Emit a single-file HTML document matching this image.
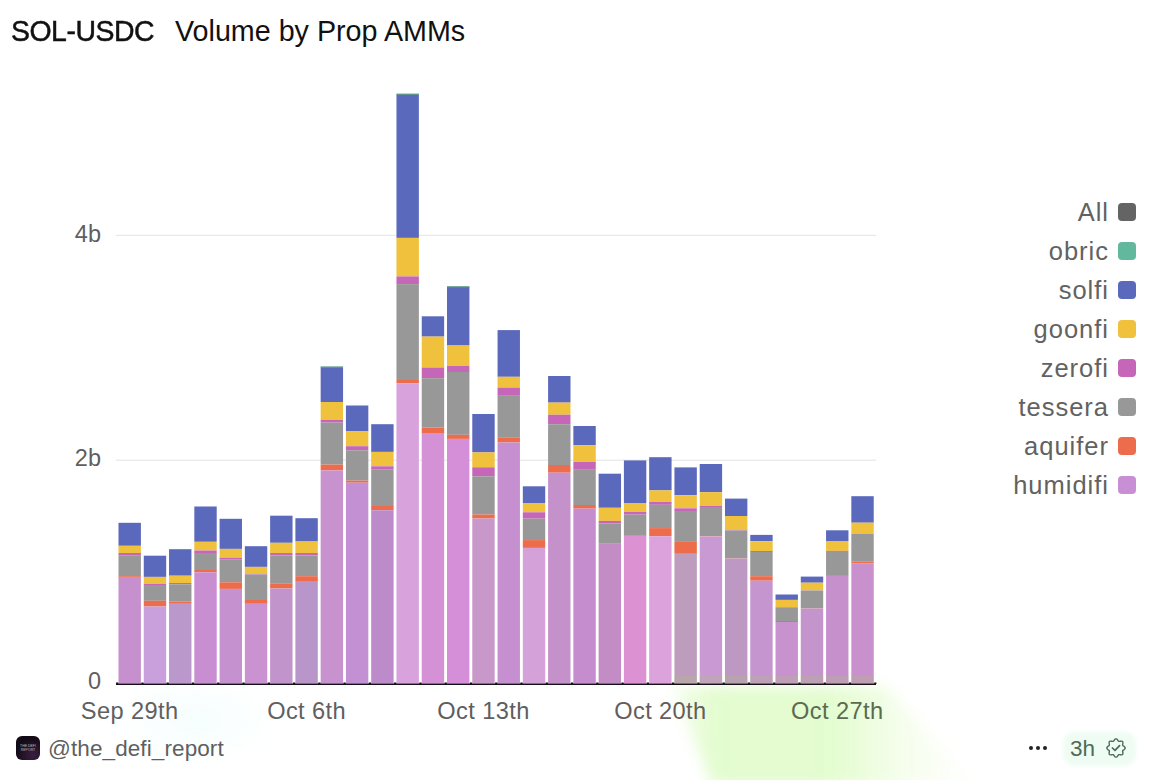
<!DOCTYPE html>
<html><head><meta charset="utf-8"><style>
html,body{margin:0;padding:0;}
body{width:1152px;height:780px;overflow:hidden;background:#fff;position:relative;font-family:"Liberation Sans",sans-serif;}
.abs{position:absolute;}
.title{position:absolute;left:11px;top:14px;font-size:28.7px;color:#111;white-space:nowrap;line-height:34px;}
.title b{font-weight:normal;-webkit-text-stroke:0.5px #111;letter-spacing:-0.5px;font-size:29.8px;display:inline-block;transform:scaleX(0.954);transform-origin:0 0;}
.title .v{position:absolute;left:164px;top:0;}
.yl{position:absolute;width:60px;left:41px;text-align:right;font-size:23.5px;color:#5f5f5f;line-height:28px;}
.xl{position:absolute;width:200px;top:697px;text-align:center;font-size:23.6px;letter-spacing:0.4px;color:#5f5f5f;line-height:28px;white-space:nowrap;}
.lg{position:absolute;right:16px;height:40px;display:flex;align-items:center;justify-content:flex-end;font-size:25.5px;color:#626262;white-space:nowrap;}
.lg span{letter-spacing:1.0px;}
.lg i{display:inline-block;width:18px;height:18px;border-radius:4px;margin-left:9px;}
svg{position:absolute;left:0;top:0;}
.handle{position:absolute;left:48px;top:734.5px;font-size:22.5px;letter-spacing:0.1px;color:#5f5f5f;line-height:28px;white-space:nowrap;}
.av{position:absolute;left:16px;top:736px;width:24px;height:24px;border-radius:6px;background:radial-gradient(circle at 70% 80%,#3a1f40,#120a14 70%);}
.av span{position:absolute;left:4px;top:8px;width:16px;font-size:3.5px;line-height:4px;color:#bbb;text-align:center;}
.pill{position:absolute;left:1063px;top:732px;width:73px;height:34px;border-radius:12px;background:#eefcf3;filter:blur(2px);}
.h3{position:absolute;left:1070px;top:734.5px;font-size:22.5px;line-height:28px;color:#4d6b56;}
.dots{position:absolute;left:1028.5px;top:745.5px;}
.dots i{display:inline-block;width:4.6px;height:4.6px;border-radius:50%;background:#222;margin-right:2.6px;float:left;}
</style></head><body>
<div class="abs" style="left:655px;top:686px;width:320px;height:100px;filter:blur(7px);"><div style="width:100%;height:100%;background:linear-gradient(to right, rgba(226,252,205,0) 0%, rgba(226,252,205,0.95) 18%, rgba(226,252,205,0.95) 55%, rgba(240,253,225,0.6) 78%, rgba(255,255,255,0) 100%);clip-path:polygon(5% 0, 72% 0, 100% 100%, 18% 100%);"></div></div>
<div class="abs" style="left:110px;top:688px;width:170px;height:80px;background:radial-gradient(ellipse at 50% 40%, rgba(200,245,245,0.18), rgba(255,255,255,0) 70%);filter:blur(6px);"></div>
<div class="title"><b>SOL-USDC</b><span class="v">Volume by Prop AMMs</span></div>
<svg width="1152" height="780" viewBox="0 0 1152 780">
<rect x="116" y="234.8" width="760" height="1.2" fill="#e8e8e8"/>
<rect x="116" y="459.6" width="760" height="1.2" fill="#e8e8e8"/>
<rect x="118.50" y="522.80" width="22.4" height="23.00" fill="#5b69bd"/>
<rect x="118.50" y="545.80" width="22.4" height="7.20" fill="#f0c13c"/>
<rect x="118.50" y="553.00" width="22.4" height="2.70" fill="#c566b9"/>
<rect x="118.50" y="555.70" width="22.4" height="20.50" fill="#989898"/>
<rect x="118.50" y="576.20" width="22.4" height="0.80" fill="#ec6c4c"/>
<rect x="118.50" y="577.00" width="22.4" height="106.50" fill="#c690cf"/>
<rect x="143.77" y="555.70" width="22.4" height="21.20" fill="#5b69bd"/>
<rect x="143.77" y="576.90" width="22.4" height="6.90" fill="#f0c13c"/>
<rect x="143.77" y="583.80" width="22.4" height="1.20" fill="#c566b9"/>
<rect x="143.77" y="585.00" width="22.4" height="15.80" fill="#989898"/>
<rect x="143.77" y="600.80" width="22.4" height="5.70" fill="#ec6c4c"/>
<rect x="143.77" y="606.50" width="22.4" height="77.00" fill="#c9a0dc"/>
<rect x="169.04" y="549.20" width="22.4" height="26.50" fill="#5b69bd"/>
<rect x="169.04" y="575.70" width="22.4" height="7.30" fill="#f0c13c"/>
<rect x="169.04" y="583.00" width="22.4" height="1.30" fill="#c566b9"/>
<rect x="169.04" y="584.30" width="22.4" height="17.20" fill="#989898"/>
<rect x="169.04" y="601.50" width="22.4" height="2.30" fill="#ec6c4c"/>
<rect x="169.04" y="603.80" width="22.4" height="79.70" fill="#bb98cc"/>
<rect x="194.31" y="506.50" width="22.4" height="35.30" fill="#5b69bd"/>
<rect x="194.31" y="541.80" width="22.4" height="8.70" fill="#f0c13c"/>
<rect x="194.31" y="550.50" width="22.4" height="2.50" fill="#c566b9"/>
<rect x="194.31" y="553.00" width="22.4" height="17.00" fill="#989898"/>
<rect x="194.31" y="570.00" width="22.4" height="2.30" fill="#ec6c4c"/>
<rect x="194.31" y="572.30" width="22.4" height="111.20" fill="#c98dd2"/>
<rect x="219.58" y="518.80" width="22.4" height="30.10" fill="#5b69bd"/>
<rect x="219.58" y="548.90" width="22.4" height="8.80" fill="#f0c13c"/>
<rect x="219.58" y="557.70" width="22.4" height="1.50" fill="#c566b9"/>
<rect x="219.58" y="559.20" width="22.4" height="23.10" fill="#989898"/>
<rect x="219.58" y="582.30" width="22.4" height="6.60" fill="#ec6c4c"/>
<rect x="219.58" y="588.90" width="22.4" height="94.60" fill="#c592cf"/>
<rect x="244.85" y="546.20" width="22.4" height="20.70" fill="#5b69bd"/>
<rect x="244.85" y="566.90" width="22.4" height="6.90" fill="#f0c13c"/>
<rect x="244.85" y="573.80" width="22.4" height="0.70" fill="#c566b9"/>
<rect x="244.85" y="574.50" width="22.4" height="25.50" fill="#989898"/>
<rect x="244.85" y="600.00" width="22.4" height="3.80" fill="#ec6c4c"/>
<rect x="244.85" y="603.80" width="22.4" height="79.70" fill="#cb92d2"/>
<rect x="270.12" y="515.70" width="22.4" height="27.10" fill="#5b69bd"/>
<rect x="270.12" y="542.80" width="22.4" height="10.20" fill="#f0c13c"/>
<rect x="270.12" y="553.00" width="22.4" height="2.40" fill="#c566b9"/>
<rect x="270.12" y="555.40" width="22.4" height="28.40" fill="#989898"/>
<rect x="270.12" y="583.80" width="22.4" height="4.70" fill="#ec6c4c"/>
<rect x="270.12" y="588.50" width="22.4" height="95.00" fill="#c294cc"/>
<rect x="295.39" y="518.20" width="22.4" height="23.30" fill="#5b69bd"/>
<rect x="295.39" y="541.50" width="22.4" height="11.50" fill="#f0c13c"/>
<rect x="295.39" y="553.00" width="22.4" height="2.40" fill="#c566b9"/>
<rect x="295.39" y="555.40" width="22.4" height="20.80" fill="#989898"/>
<rect x="295.39" y="576.20" width="22.4" height="5.60" fill="#ec6c4c"/>
<rect x="295.39" y="581.80" width="22.4" height="101.70" fill="#b996c9"/>
<rect x="320.66" y="367.20" width="22.4" height="34.80" fill="#5b69bd"/>
<rect x="320.66" y="402.00" width="22.4" height="17.90" fill="#f0c13c"/>
<rect x="320.66" y="419.90" width="22.4" height="2.70" fill="#c566b9"/>
<rect x="320.66" y="422.60" width="22.4" height="42.00" fill="#989898"/>
<rect x="320.66" y="464.60" width="22.4" height="5.80" fill="#ec6c4c"/>
<rect x="320.66" y="470.40" width="22.4" height="213.10" fill="#c892ce"/>
<rect x="320.66" y="366.40" width="22.4" height="1.3" fill="#5a948a"/>
<rect x="345.93" y="405.50" width="22.4" height="25.90" fill="#5b69bd"/>
<rect x="345.93" y="431.40" width="22.4" height="14.80" fill="#f0c13c"/>
<rect x="345.93" y="446.20" width="22.4" height="4.10" fill="#c566b9"/>
<rect x="345.93" y="450.30" width="22.4" height="30.30" fill="#989898"/>
<rect x="345.93" y="480.60" width="22.4" height="2.10" fill="#ec6c4c"/>
<rect x="345.93" y="482.70" width="22.4" height="200.80" fill="#c490d4"/>
<rect x="371.20" y="424.20" width="22.4" height="27.70" fill="#5b69bd"/>
<rect x="371.20" y="451.90" width="22.4" height="14.40" fill="#f0c13c"/>
<rect x="371.20" y="466.30" width="22.4" height="3.40" fill="#c566b9"/>
<rect x="371.20" y="469.70" width="22.4" height="36.30" fill="#989898"/>
<rect x="371.20" y="506.00" width="22.4" height="4.20" fill="#ec6c4c"/>
<rect x="371.20" y="510.20" width="22.4" height="173.30" fill="#bd8bca"/>
<rect x="396.47" y="94.40" width="22.4" height="143.50" fill="#5b69bd"/>
<rect x="396.47" y="237.90" width="22.4" height="38.50" fill="#f0c13c"/>
<rect x="396.47" y="276.40" width="22.4" height="7.70" fill="#c566b9"/>
<rect x="396.47" y="284.10" width="22.4" height="95.90" fill="#989898"/>
<rect x="396.47" y="380.00" width="22.4" height="3.20" fill="#ec6c4c"/>
<rect x="396.47" y="383.20" width="22.4" height="300.30" fill="#d8a2dc"/>
<rect x="396.47" y="93.60" width="22.4" height="1.3" fill="#5a948a"/>
<rect x="421.74" y="316.30" width="22.4" height="20.30" fill="#5b69bd"/>
<rect x="421.74" y="336.60" width="22.4" height="30.90" fill="#f0c13c"/>
<rect x="421.74" y="367.50" width="22.4" height="10.70" fill="#c566b9"/>
<rect x="421.74" y="378.20" width="22.4" height="49.40" fill="#989898"/>
<rect x="421.74" y="427.60" width="22.4" height="5.40" fill="#ec6c4c"/>
<rect x="421.74" y="433.00" width="22.4" height="250.50" fill="#d591d6"/>
<rect x="447.01" y="287.00" width="22.4" height="58.50" fill="#5b69bd"/>
<rect x="447.01" y="345.50" width="22.4" height="20.50" fill="#f0c13c"/>
<rect x="447.01" y="366.00" width="22.4" height="6.00" fill="#c566b9"/>
<rect x="447.01" y="372.00" width="22.4" height="62.80" fill="#989898"/>
<rect x="447.01" y="434.80" width="22.4" height="4.10" fill="#ec6c4c"/>
<rect x="447.01" y="438.90" width="22.4" height="244.60" fill="#d58fd8"/>
<rect x="447.01" y="286.20" width="22.4" height="1.3" fill="#5a948a"/>
<rect x="472.28" y="414.00" width="22.4" height="38.40" fill="#5b69bd"/>
<rect x="472.28" y="452.40" width="22.4" height="14.90" fill="#f0c13c"/>
<rect x="472.28" y="467.30" width="22.4" height="9.00" fill="#c566b9"/>
<rect x="472.28" y="476.30" width="22.4" height="38.20" fill="#989898"/>
<rect x="472.28" y="514.50" width="22.4" height="4.00" fill="#ec6c4c"/>
<rect x="472.28" y="518.50" width="22.4" height="165.00" fill="#c998cb"/>
<rect x="497.55" y="330.10" width="22.4" height="46.70" fill="#5b69bd"/>
<rect x="497.55" y="376.80" width="22.4" height="10.80" fill="#f0c13c"/>
<rect x="497.55" y="387.60" width="22.4" height="8.20" fill="#c566b9"/>
<rect x="497.55" y="395.80" width="22.4" height="42.00" fill="#989898"/>
<rect x="497.55" y="437.80" width="22.4" height="4.70" fill="#ec6c4c"/>
<rect x="497.55" y="442.50" width="22.4" height="241.00" fill="#c68fd0"/>
<rect x="522.82" y="486.30" width="22.4" height="16.70" fill="#5b69bd"/>
<rect x="522.82" y="503.00" width="22.4" height="9.30" fill="#f0c13c"/>
<rect x="522.82" y="512.30" width="22.4" height="6.30" fill="#c566b9"/>
<rect x="522.82" y="518.60" width="22.4" height="21.50" fill="#989898"/>
<rect x="522.82" y="540.10" width="22.4" height="7.80" fill="#ec6c4c"/>
<rect x="522.82" y="547.90" width="22.4" height="135.60" fill="#d5a1d9"/>
<rect x="548.09" y="376.00" width="22.4" height="26.60" fill="#5b69bd"/>
<rect x="548.09" y="402.60" width="22.4" height="12.10" fill="#f0c13c"/>
<rect x="548.09" y="414.70" width="22.4" height="9.50" fill="#c566b9"/>
<rect x="548.09" y="424.20" width="22.4" height="40.80" fill="#989898"/>
<rect x="548.09" y="465.00" width="22.4" height="7.70" fill="#ec6c4c"/>
<rect x="548.09" y="472.70" width="22.4" height="210.80" fill="#c591ca"/>
<rect x="573.36" y="426.00" width="22.4" height="19.20" fill="#5b69bd"/>
<rect x="573.36" y="445.20" width="22.4" height="16.80" fill="#f0c13c"/>
<rect x="573.36" y="462.00" width="22.4" height="7.10" fill="#c566b9"/>
<rect x="573.36" y="469.10" width="22.4" height="35.90" fill="#989898"/>
<rect x="573.36" y="505.00" width="22.4" height="3.60" fill="#ec6c4c"/>
<rect x="573.36" y="508.60" width="22.4" height="174.90" fill="#c58dcd"/>
<rect x="598.63" y="473.70" width="22.4" height="34.10" fill="#5b69bd"/>
<rect x="598.63" y="507.80" width="22.4" height="13.10" fill="#f0c13c"/>
<rect x="598.63" y="520.90" width="22.4" height="2.70" fill="#c566b9"/>
<rect x="598.63" y="523.60" width="22.4" height="19.80" fill="#989898"/>
<rect x="598.63" y="543.40" width="22.4" height="0.60" fill="#ec6c4c"/>
<rect x="598.63" y="544.00" width="22.4" height="139.50" fill="#c48cc4"/>
<rect x="623.90" y="460.40" width="22.4" height="42.60" fill="#5b69bd"/>
<rect x="623.90" y="503.00" width="22.4" height="9.00" fill="#f0c13c"/>
<rect x="623.90" y="512.00" width="22.4" height="2.60" fill="#c566b9"/>
<rect x="623.90" y="514.60" width="22.4" height="20.70" fill="#989898"/>
<rect x="623.90" y="535.30" width="22.4" height="0.70" fill="#ec6c4c"/>
<rect x="623.90" y="536.00" width="22.4" height="147.50" fill="#dc92d2"/>
<rect x="649.17" y="457.20" width="22.4" height="33.20" fill="#5b69bd"/>
<rect x="649.17" y="490.40" width="22.4" height="11.60" fill="#f0c13c"/>
<rect x="649.17" y="502.00" width="22.4" height="2.80" fill="#c566b9"/>
<rect x="649.17" y="504.80" width="22.4" height="23.30" fill="#989898"/>
<rect x="649.17" y="528.10" width="22.4" height="8.10" fill="#ec6c4c"/>
<rect x="649.17" y="536.20" width="22.4" height="147.30" fill="#dca2dc"/>
<rect x="674.44" y="467.40" width="22.4" height="27.80" fill="#5b69bd"/>
<rect x="674.44" y="495.20" width="22.4" height="13.10" fill="#f0c13c"/>
<rect x="674.44" y="508.30" width="22.4" height="2.70" fill="#c566b9"/>
<rect x="674.44" y="511.00" width="22.4" height="30.90" fill="#989898"/>
<rect x="674.44" y="541.90" width="22.4" height="11.90" fill="#ec6c4c"/>
<rect x="674.44" y="553.80" width="22.4" height="129.70" fill="#be9cbe"/>
<rect x="699.71" y="464.00" width="22.4" height="28.20" fill="#5b69bd"/>
<rect x="699.71" y="492.20" width="22.4" height="13.80" fill="#f0c13c"/>
<rect x="699.71" y="506.00" width="22.4" height="1.00" fill="#c566b9"/>
<rect x="699.71" y="507.00" width="22.4" height="29.20" fill="#989898"/>
<rect x="699.71" y="536.20" width="22.4" height="0.30" fill="#ec6c4c"/>
<rect x="699.71" y="536.50" width="22.4" height="147.00" fill="#c999d4"/>
<rect x="724.98" y="498.60" width="22.4" height="17.40" fill="#5b69bd"/>
<rect x="724.98" y="516.00" width="22.4" height="13.90" fill="#f0c13c"/>
<rect x="724.98" y="529.90" width="22.4" height="0.60" fill="#c566b9"/>
<rect x="724.98" y="530.50" width="22.4" height="27.70" fill="#989898"/>
<rect x="724.98" y="558.20" width="22.4" height="0.30" fill="#ec6c4c"/>
<rect x="724.98" y="558.50" width="22.4" height="125.00" fill="#bd98c2"/>
<rect x="750.25" y="534.90" width="22.4" height="6.30" fill="#5b69bd"/>
<rect x="750.25" y="541.20" width="22.4" height="9.80" fill="#f0c13c"/>
<rect x="750.25" y="551.00" width="22.4" height="1.00" fill="#c566b9"/>
<rect x="750.25" y="552.00" width="22.4" height="24.20" fill="#989898"/>
<rect x="750.25" y="576.20" width="22.4" height="4.50" fill="#ec6c4c"/>
<rect x="750.25" y="580.70" width="22.4" height="102.80" fill="#c595d0"/>
<rect x="775.52" y="594.50" width="22.4" height="5.40" fill="#5b69bd"/>
<rect x="775.52" y="599.90" width="22.4" height="7.10" fill="#f0c13c"/>
<rect x="775.52" y="607.00" width="22.4" height="0.30" fill="#c566b9"/>
<rect x="775.52" y="607.30" width="22.4" height="13.70" fill="#989898"/>
<rect x="775.52" y="621.00" width="22.4" height="1.00" fill="#ec6c4c"/>
<rect x="775.52" y="622.00" width="22.4" height="61.50" fill="#c892cf"/>
<rect x="800.79" y="576.60" width="22.4" height="6.10" fill="#5b69bd"/>
<rect x="800.79" y="582.70" width="22.4" height="7.70" fill="#f0c13c"/>
<rect x="800.79" y="590.40" width="22.4" height="0.10" fill="#c566b9"/>
<rect x="800.79" y="590.50" width="22.4" height="17.90" fill="#989898"/>
<rect x="800.79" y="608.40" width="22.4" height="0.20" fill="#ec6c4c"/>
<rect x="800.79" y="608.60" width="22.4" height="74.90" fill="#c494cc"/>
<rect x="826.06" y="530.30" width="22.4" height="10.70" fill="#5b69bd"/>
<rect x="826.06" y="541.00" width="22.4" height="9.90" fill="#f0c13c"/>
<rect x="826.06" y="550.90" width="22.4" height="0.10" fill="#c566b9"/>
<rect x="826.06" y="551.00" width="22.4" height="24.20" fill="#989898"/>
<rect x="826.06" y="575.20" width="22.4" height="0.80" fill="#ec6c4c"/>
<rect x="826.06" y="576.00" width="22.4" height="107.50" fill="#c690cd"/>
<rect x="851.33" y="496.20" width="22.4" height="26.50" fill="#5b69bd"/>
<rect x="851.33" y="522.70" width="22.4" height="11.20" fill="#f0c13c"/>
<rect x="851.33" y="533.90" width="22.4" height="0.10" fill="#c566b9"/>
<rect x="851.33" y="534.00" width="22.4" height="27.70" fill="#989898"/>
<rect x="851.33" y="561.70" width="22.4" height="1.80" fill="#ec6c4c"/>
<rect x="851.33" y="563.50" width="22.4" height="120.00" fill="#c890cc"/>
<rect x="674.44" y="676" width="22.4" height="7.5" fill="rgba(170,195,120,0.28)"/>
<rect x="699.71" y="676" width="22.4" height="7.5" fill="rgba(170,195,120,0.28)"/>
<rect x="724.98" y="676" width="22.4" height="7.5" fill="rgba(170,195,120,0.28)"/>
<rect x="750.25" y="676" width="22.4" height="7.5" fill="rgba(170,195,120,0.28)"/>
<rect x="775.52" y="676" width="22.4" height="7.5" fill="rgba(170,195,120,0.28)"/>
<rect x="800.79" y="676" width="22.4" height="7.5" fill="rgba(170,195,120,0.28)"/>
<rect x="826.06" y="676" width="22.4" height="7.5" fill="rgba(170,195,120,0.28)"/>
<rect x="851.33" y="676" width="22.4" height="7.5" fill="rgba(170,195,120,0.28)"/>
<rect x="116" y="683.5" width="760" height="1.5" fill="#141018"/>
<rect x="116.10" y="682.5" width="2.2" height="1.5" fill="#141018"/>
<rect x="141.37" y="682.5" width="2.2" height="1.5" fill="#141018"/>
<rect x="166.64" y="682.5" width="2.2" height="1.5" fill="#141018"/>
<rect x="191.91" y="682.5" width="2.2" height="1.5" fill="#141018"/>
<rect x="217.18" y="682.5" width="2.2" height="1.5" fill="#141018"/>
<rect x="242.45" y="682.5" width="2.2" height="1.5" fill="#141018"/>
<rect x="267.72" y="682.5" width="2.2" height="1.5" fill="#141018"/>
<rect x="292.99" y="682.5" width="2.2" height="1.5" fill="#141018"/>
<rect x="318.26" y="682.5" width="2.2" height="1.5" fill="#141018"/>
<rect x="343.53" y="682.5" width="2.2" height="1.5" fill="#141018"/>
<rect x="368.80" y="682.5" width="2.2" height="1.5" fill="#141018"/>
<rect x="394.07" y="682.5" width="2.2" height="1.5" fill="#141018"/>
<rect x="419.34" y="682.5" width="2.2" height="1.5" fill="#141018"/>
<rect x="444.61" y="682.5" width="2.2" height="1.5" fill="#141018"/>
<rect x="469.88" y="682.5" width="2.2" height="1.5" fill="#141018"/>
<rect x="495.15" y="682.5" width="2.2" height="1.5" fill="#141018"/>
<rect x="520.42" y="682.5" width="2.2" height="1.5" fill="#141018"/>
<rect x="545.69" y="682.5" width="2.2" height="1.5" fill="#141018"/>
<rect x="570.96" y="682.5" width="2.2" height="1.5" fill="#141018"/>
<rect x="596.23" y="682.5" width="2.2" height="1.5" fill="#141018"/>
<rect x="621.50" y="682.5" width="2.2" height="1.5" fill="#141018"/>
<rect x="646.77" y="682.5" width="2.2" height="1.5" fill="#141018"/>
<rect x="672.04" y="682.5" width="2.2" height="1.5" fill="#141018"/>
<rect x="697.31" y="682.5" width="2.2" height="1.5" fill="#141018"/>
<rect x="722.58" y="682.5" width="2.2" height="1.5" fill="#141018"/>
<rect x="747.85" y="682.5" width="2.2" height="1.5" fill="#141018"/>
<rect x="773.12" y="682.5" width="2.2" height="1.5" fill="#141018"/>
<rect x="798.39" y="682.5" width="2.2" height="1.5" fill="#141018"/>
<rect x="823.66" y="682.5" width="2.2" height="1.5" fill="#141018"/>
<rect x="848.93" y="682.5" width="2.2" height="1.5" fill="#141018"/>
<rect x="874.20" y="682.5" width="2.2" height="1.5" fill="#141018"/>
</svg>
<div class="yl" style="top:219.5px">4b</div>
<div class="yl" style="top:443.5px">2b</div>
<div class="yl" style="top:667px">0</div>
<div class="xl" style="left:29.7px;color:#606060">Sep 29th</div>
<div class="xl" style="left:206.6px;color:#606060">Oct 6th</div>
<div class="xl" style="left:383.5px;color:#5e5e5e">Oct 13th</div>
<div class="xl" style="left:560.4px;color:#655c5c">Oct 20th</div>
<div class="xl" style="left:737.3px;color:#5a6b50">Oct 27th</div>
<div class="lg" style="top:192px"><span>All</span><i style="background:#646464"></i></div>
<div class="lg" style="top:231px"><span>obric</span><i style="background:#62b89c"></i></div>
<div class="lg" style="top:270px"><span>solfi</span><i style="background:#5b69bd"></i></div>
<div class="lg" style="top:309px"><span>goonfi</span><i style="background:#f0c13c"></i></div>
<div class="lg" style="top:348px"><span>zerofi</span><i style="background:#c566b9"></i></div>
<div class="lg" style="top:387px"><span>tessera</span><i style="background:#989898"></i></div>
<div class="lg" style="top:426px"><span>aquifer</span><i style="background:#ec6c4c"></i></div>
<div class="lg" style="top:465px"><span>humidifi</span><i style="background:#c98fd5"></i></div>
<div class="av"><span>THE DEFI REPORT</span></div>
<div class="handle">@the_defi_report</div>
<div class="dots"><i></i><i></i><i></i></div>
<div class="pill"></div>
<div class="h3">3h</div>
<svg class="abs" style="left:1105px;top:737px" width="22" height="22" viewBox="0 0 22 22">
<path d="M11.00 1.85 L11.36 1.90 L11.70 2.06 L12.03 2.30 L12.33 2.61 L12.60 2.96 L12.85 3.31 L13.07 3.65 L13.30 3.93 L13.53 4.15 L13.77 4.30 L14.05 4.37 L14.37 4.38 L14.73 4.33 L15.13 4.26 L15.56 4.18 L15.99 4.13 L16.42 4.12 L16.82 4.18 L17.18 4.32 L17.47 4.53 L17.68 4.82 L17.82 5.18 L17.88 5.58 L17.87 6.01 L17.82 6.44 L17.74 6.87 L17.67 7.27 L17.62 7.63 L17.63 7.95 L17.70 8.23 L17.85 8.47 L18.07 8.70 L18.35 8.93 L18.69 9.15 L19.04 9.40 L19.39 9.67 L19.70 9.97 L19.94 10.30 L20.10 10.64 L20.15 11.00 L20.10 11.36 L19.94 11.70 L19.70 12.03 L19.39 12.33 L19.04 12.60 L18.69 12.85 L18.35 13.07 L18.07 13.30 L17.85 13.53 L17.70 13.77 L17.63 14.05 L17.62 14.37 L17.67 14.73 L17.74 15.13 L17.82 15.56 L17.87 15.99 L17.88 16.42 L17.82 16.82 L17.68 17.18 L17.47 17.47 L17.18 17.68 L16.82 17.82 L16.42 17.88 L15.99 17.87 L15.56 17.82 L15.13 17.74 L14.73 17.67 L14.37 17.62 L14.05 17.63 L13.77 17.70 L13.53 17.85 L13.30 18.07 L13.07 18.35 L12.85 18.69 L12.60 19.04 L12.33 19.39 L12.03 19.70 L11.70 19.94 L11.36 20.10 L11.00 20.15 L10.64 20.10 L10.30 19.94 L9.97 19.70 L9.67 19.39 L9.40 19.04 L9.15 18.69 L8.93 18.35 L8.70 18.07 L8.47 17.85 L8.23 17.70 L7.95 17.63 L7.63 17.62 L7.27 17.67 L6.87 17.74 L6.44 17.82 L6.01 17.87 L5.58 17.88 L5.18 17.82 L4.82 17.68 L4.53 17.47 L4.32 17.18 L4.18 16.82 L4.12 16.42 L4.13 15.99 L4.18 15.56 L4.26 15.13 L4.33 14.73 L4.38 14.37 L4.37 14.05 L4.30 13.77 L4.15 13.53 L3.93 13.30 L3.65 13.07 L3.31 12.85 L2.96 12.60 L2.61 12.33 L2.30 12.03 L2.06 11.70 L1.90 11.36 L1.85 11.00 L1.90 10.64 L2.06 10.30 L2.30 9.97 L2.61 9.67 L2.96 9.40 L3.31 9.15 L3.65 8.93 L3.93 8.70 L4.15 8.47 L4.30 8.23 L4.37 7.95 L4.38 7.63 L4.33 7.27 L4.26 6.87 L4.18 6.44 L4.13 6.01 L4.12 5.58 L4.18 5.18 L4.32 4.82 L4.53 4.53 L4.82 4.32 L5.18 4.18 L5.58 4.12 L6.01 4.13 L6.44 4.18 L6.87 4.26 L7.27 4.33 L7.63 4.38 L7.95 4.37 L8.23 4.30 L8.47 4.15 L8.70 3.93 L8.93 3.65 L9.15 3.31 L9.40 2.96 L9.67 2.61 L9.97 2.30 L10.30 2.06 L10.64 1.90 Z" fill="none" stroke="#4d6b56" stroke-width="1.4" stroke-linejoin="round"/>
<path d="M7.4 11 L10 13.4 L14.6 8.6" fill="none" stroke="#4d6b56" stroke-width="1.7" stroke-linecap="round" stroke-linejoin="round"/>
</svg>
</body></html>
